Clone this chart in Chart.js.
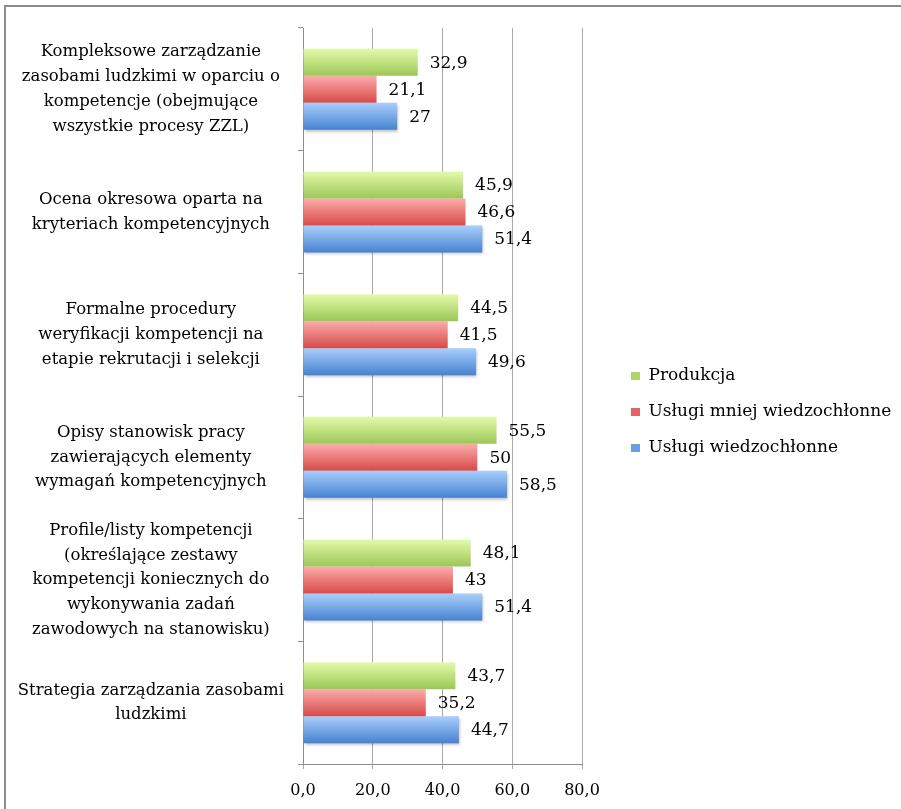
<!DOCTYPE html>
<html>
<head>
<meta charset="utf-8">
<script src="https://cdn.jsdelivr.net/npm/chart.js@4.4.0/dist/chart.umd.min.js"></script>
<style>
  html, body { margin: 0; padding: 0; background: #fff; overflow: hidden; }
  #wrap { position: relative; width: 901px; height: 809px; }
  #chart { display: block; }
  #frame { position: absolute; left: 4px; top: 5px; width: 897px; height: 804px; box-sizing: border-box;
           border-top: 2px solid #8c8c8c; border-left: 2px solid #8c8c8c; pointer-events: none; }
</style>
</head>
<body>
<div id="wrap">
  <canvas id="chart" width="901" height="809"></canvas>
  <div id="frame"></div>
</div>
<script>
// dane
const categories = [
  ['Kompleksowe zarządzanie', 'zasobami ludzkimi w oparciu o', 'kompetencje (obejmujące', 'wszystkie procesy ZZL)'],
  ['Ocena okresowa oparta na', 'kryteriach kompetencyjnych'],
  ['Formalne procedury', 'weryfikacji kompetencji na', 'etapie rekrutacji i selekcji'],
  ['Opisy stanowisk pracy', 'zawierających elementy', 'wymagań kompetencyjnych'],
  ['Profile/listy kompetencji', '(określające zestawy', 'kompetencji koniecznych do', 'wykonywania zadań', 'zawodowych na stanowisku)'],
  ['Strategia zarządzania zasobami', 'ludzkimi']
];
const seriesNames = ['Produkcja', 'Usługi mniej wiedzochłonne', 'Usługi wiedzochłonne'];
const produkcja = [32.9, 45.9, 44.5, 55.5, 48.1, 43.7];
const uslugiMniej = [21.1, 46.6, 41.5, 50, 43, 35.2];
const uslugiWiedzo = [27, 51.4, 49.6, 58.5, 51.4, 44.7];
const xTicks = [0, 20, 40, 60, 80];

const FONT = '"DejaVu Serif", serif';
const plain = ['#aed46c', '#e06666', '#6b9de3'];
const grads = [['#e4fbaa', '#9cc657'], ['#fcacab', '#d64b49'], ['#aacefc', '#4783d0']];

// gradient słupków
const barFill = {
  id: 'barFill',
  beforeDatasetDraw(chart, args) {
    const ctx = chart.ctx;
    const g2 = grads[args.index];
    args.meta.data.forEach(el => {
      const g = ctx.createLinearGradient(0, el.y - el.height / 2, 0, el.y + el.height / 2);
      g.addColorStop(0, g2[0]);
      g.addColorStop(1, g2[1]);
      el.options = Object.assign({}, el.options, { backgroundColor: g });
    });
    if (args.index === 2) {
      ctx.shadowColor = 'rgba(0,0,0,0.3)';
      ctx.shadowBlur = 3;
      ctx.shadowOffsetX = 1;
      ctx.shadowOffsetY = 2;
    }
  },
  afterDatasetDraw(chart) {
    const ctx = chart.ctx;
    ctx.shadowColor = 'transparent';
    ctx.shadowBlur = 0;
    ctx.shadowOffsetX = 0;
    ctx.shadowOffsetY = 0;
  }
};

// etykiety wartości
const valueLabels = {
  id: 'valueLabels',
  afterDatasetsDraw(chart) {
    const ctx = chart.ctx;
    ctx.save();
    ctx.font = '17px ' + FONT;
    ctx.fillStyle = '#000';
    ctx.textAlign = 'left';
    ctx.textBaseline = 'middle';
    chart.data.datasets.forEach((ds, i) => {
      chart.getDatasetMeta(i).data.forEach((el, j) => {
        ctx.fillText(String(ds.data[j]).replace('.', ','), el.x + 12, el.y + 1);
      });
    });
    ctx.restore();
  }
};

// legenda po prawej
const legendPlace = {
  id: 'legendPlace',
  afterInit(chart) {
    const lg = chart.legend;
    const fit = lg.fit;
    lg.fit = function () {
      fit.call(this);
      this.width = 901 - 582;
    };
  },
  afterLayout(chart) {
    const lg = chart.legend;
    const pad = lg.options.labels.padding;
    const h = lg.height;
    lg.left = 631 - pad;
    lg.right = lg.left + lg.width;
    lg.top = 376 - 8.5 - pad;
    lg.bottom = lg.top + h;
  }
};

new Chart(document.getElementById('chart'), {
  type: 'bar',
  data: {
    labels: categories,
    datasets: [
      { label: seriesNames[0], data: produkcja, backgroundColor: plain[0] },
      { label: seriesNames[1], data: uslugiMniej, backgroundColor: plain[1] },
      { label: seriesNames[2], data: uslugiWiedzo, backgroundColor: plain[2] }
    ]
  },
  options: {
    indexAxis: 'y',
    responsive: false,
    animation: false,
    categoryPercentage: 0.66,
    barPercentage: 1,
    layout: { padding: { top: 28, left: 0, right: 0, bottom: 0 } },
    plugins: {
      tooltip: { enabled: false },
      legend: {
        position: 'right',
        align: 'start',
        labels: {
          boxWidth: 9,
          boxHeight: 8,
          padding: 19,
          color: '#000',
          font: { family: FONT, size: 17 }
        }
      }
    },
    scales: {
      x: {
        min: 0,
        max: 80,
        afterBuildTicks: s => { s.ticks = xTicks.map(v => ({ value: v })); },
        afterFit: s => { s.height = 45; },
        grid: { color: '#a9a9a9', tickLength: 5 },
        border: { color: '#8c8c8c' },
        ticks: {
          color: '#000',
          padding: 12,
          font: { family: FONT, size: 16 },
          callback: v => v.toFixed(1).replace('.', ',')
        }
      },
      y: {
        afterFit: s => { s.width = 303; s.paddingTop = 0; s.paddingBottom = 0; },
        grid: { drawOnChartArea: false, offset: true, tickLength: 5, color: '#8c8c8c' },
        border: { color: '#8c8c8c' },
        ticks: {
          color: '#000',
          padding: 14,
          autoSkip: false,
          crossAlign: 'center',
          font: { family: FONT, size: 16.5, lineHeight: 1.5 }
        }
      }
    }
  },
  plugins: [barFill, valueLabels, legendPlace]
});
</script>
</body>
</html>
